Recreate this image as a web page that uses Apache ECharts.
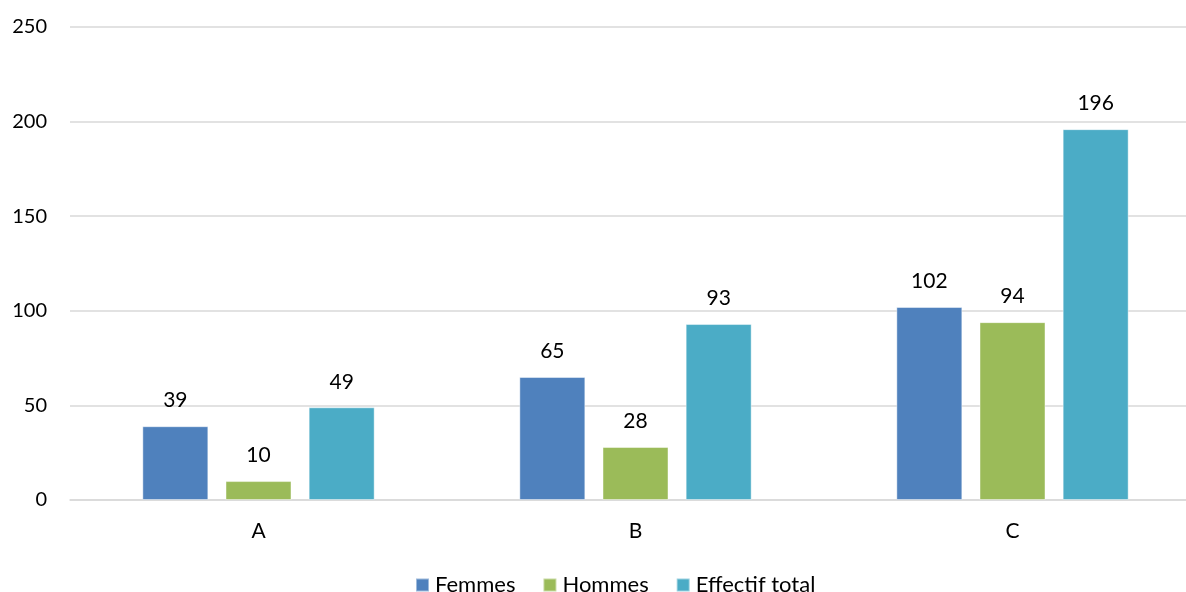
<!DOCTYPE html>
<html>
<head>
<meta charset="utf-8">
<script src="https://cdn.jsdelivr.net/npm/echarts@6/dist/echarts.min.js"></script>
<style>
  html, body { margin: 0; padding: 0; background: #fff; }
  #chart { width: 1186px; height: 592px; }
</style>
</head>
<body>
<div id="chart"></div>
<script>
// Groups and head counts per group
const categories = ['A', 'B', 'C'];
const femmes = [39, 65, 102];
const hommes = [10, 28, 94];
const effectifTotal = [49, 93, 196];
const yTicks = { min: 0, max: 250, interval: 50 };

const FONT = 'Lato, "Open Sans", sans-serif';
const chart = echarts.init(document.getElementById('chart'), null, { renderer: 'canvas' });

function barSeries(name, data, color) {
  return {
    name: name,
    type: 'bar',
    data: data,
    barWidth: 66,
    barGap: '26%',
    itemStyle: { color: color, borderColor: 'rgba(255,255,255,0.45)', borderWidth: 1 },
    label: {
      show: true,
      position: 'top',
      distance: 15,
      color: '#000',
      fontFamily: FONT,
      fontSize: 21
    }
  };
}

chart.setOption({
  animation: false,
  backgroundColor: '#fff',
  textStyle: { fontFamily: FONT },
  // plot area runs slightly past the right edge of the canvas
  grid: { left: 70, width: 1131, top: 27, bottom: 92, containLabel: false, outerBoundsMode: 'none' },
  legend: {
    top: 569,
    left: 410,
    itemWidth: 13,
    itemHeight: 13,
    itemGap: 27,
    icon: 'rect',
    textStyle: { fontFamily: FONT, fontSize: 22, color: '#000', padding: [0, 0, 0, 1] },
    data: ['Femmes', 'Hommes', 'Effectif total']
  },
  xAxis: {
    type: 'category',
    data: categories,
    axisTick: { show: false },
    axisLine: { lineStyle: { color: '#d9d9d9', width: 1.5 } },
    axisLabel: { color: '#000', fontFamily: FONT, fontSize: 21, margin: 21 }
  },
  yAxis: {
    type: 'value',
    min: yTicks.min,
    max: yTicks.max,
    interval: yTicks.interval,
    axisLine: { show: false },
    axisTick: { show: false },
    axisLabel: { color: '#000', fontFamily: FONT, fontSize: 20, margin: 23 },
    splitLine: { lineStyle: { color: '#d9d9d9', width: 1.5 } }
  },
  series: [
    barSeries('Femmes', femmes, '#4F81BD'),
    barSeries('Hommes', hommes, '#9BBB59'),
    barSeries('Effectif total', effectifTotal, '#4BACC6')
  ]
});
</script>
</body>
</html>
